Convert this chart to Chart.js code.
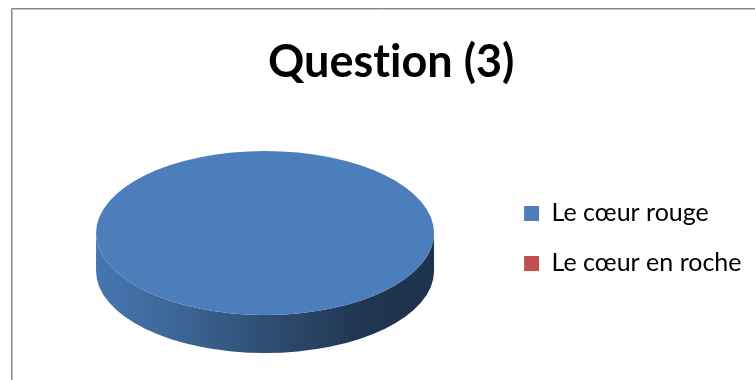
<!DOCTYPE html>
<html>
<head>
<meta charset="utf-8">
<script src="https://cdn.jsdelivr.net/npm/chart.js@4/dist/chart.umd.min.js"></script>
<style>
  html, body { margin: 0; padding: 0; background: #fff; }
  #wrap { width: 755px; height: 380px; }
</style>
</head>
<body>
<div id="wrap"><canvas id="c" width="755" height="380"></canvas></div>
<script>
const categories = ['Le cœur rouge', 'Le cœur en roche'];
const shares = [100, 0];
const sliceColors = ['#4b7ebb', '#c0504d'];
const chartTitle = 'Question (3)';

// Tilted-disc look: vertical squash of the pie and thickness of its rim
const tilt = 0.485;
const rimDepth = 38;

function shade(hex, f) {
  const n = parseInt(hex.slice(1), 16);
  const r = Math.round(((n >> 16) & 255) * f);
  const g = Math.round(((n >> 8) & 255) * f);
  const b = Math.round((n & 255) * f);
  return `rgb(${r},${g},${b})`;
}

// Grey frame of the chart object; plain glyphs without ligatures
const framePlugin = {
  id: 'frame',
  beforeDraw(chart) {
    const ctx = chart.ctx;
    if ('textRendering' in ctx) ctx.textRendering = 'optimizeSpeed';
    ctx.save();
    ctx.fillStyle = '#fff';
    ctx.fillRect(0, 0, chart.width, chart.height);
    ctx.lineWidth = 1;
    ctx.strokeStyle = '#878787';
    ctx.beginPath();
    ctx.moveTo(11.5, chart.height); ctx.lineTo(11.5, 8.5); ctx.lineTo(chart.width, 8.5);
    ctx.stroke();
    ctx.strokeStyle = '#c4c4c4';
    ctx.beginPath();
    ctx.moveTo(12.5, chart.height); ctx.lineTo(12.5, 9.5); ctx.lineTo(chart.width, 9.5);
    ctx.stroke();
    ctx.restore();
  }
};

// Draws the rim of each slice, then squashes the slices into an ellipse
const pie3dPlugin = {
  id: 'pie3d',
  beforeDatasetsDraw(chart) {
    const ctx = chart.ctx;
    const meta = chart.getDatasetMeta(0);
    const arcs = meta.data;
    ctx.save();
    arcs.forEach((arc, i) => {
      const p = arc.getProps(['x', 'y', 'startAngle', 'endAngle', 'outerRadius']);
      if (p.endAngle - p.startAngle <= 0) return;
      const rx = p.outerRadius, ry = p.outerRadius * tilt;
      const base = sliceColors[i];
      const grad = ctx.createLinearGradient(p.x - rx, 0, p.x + rx, 0);
      grad.addColorStop(0, shade(base, 0.94));
      grad.addColorStop(0.25, shade(base, 0.80));
      grad.addColorStop(0.5, shade(base, 0.62));
      grad.addColorStop(0.8, shade(base, 0.42));
      grad.addColorStop(1, shade(base, 0.40));
      ctx.fillStyle = grad;
      // only the front half of the rim (0..PI, y pointing down) is visible
      for (let k = -1; k <= 1; k++) {
        const a0 = Math.max(p.startAngle, 2 * Math.PI * k);
        const a1 = Math.min(p.endAngle, 2 * Math.PI * k + Math.PI);
        if (a1 <= a0) continue;
        ctx.beginPath();
        ctx.ellipse(p.x, p.y, rx, ry, 0, a0, a1, false);
        ctx.ellipse(p.x, p.y + rimDepth, rx, ry, 0, a1, a0, true);
        ctx.closePath();
        ctx.fill();
      }
    });
    const cy = arcs[0].y;
    ctx.translate(0, cy);
    ctx.scale(1, tilt);
    ctx.translate(0, -cy);
  },
  afterDatasetsDraw(chart) {
    chart.ctx.restore();
  }
};

new Chart(document.getElementById('c'), {
  type: 'pie',
  data: {
    labels: categories,
    datasets: [{
      data: shares,
      backgroundColor: sliceColors,
      borderWidth: 0,
      clip: false
    }]
  },
  options: {
    responsive: false,
    animation: false,
    radius: 169,
    layout: { padding: { left: 31, right: 3.5, top: 8, bottom: 3 } },
    plugins: {
      title: {
        display: true,
        text: chartTitle,
        color: '#000',
        font: { family: 'Lato', size: 45, weight: 'bold' },
        padding: { top: 27, bottom: 0 }
      },
      legend: {
        position: 'right',
        title: { display: true, text: ' ', font: { size: 9 }, padding: { top: 81, bottom: 0 } },
        labels: {
          color: '#000',
          font: { family: 'Lato', size: 25 },
          boxWidth: 15,
          boxHeight: 15,
          padding: 25
        }
      },
      tooltip: { enabled: false }
    }
  },
  plugins: [framePlugin, pie3dPlugin]
});
</script>
</body>
</html>
